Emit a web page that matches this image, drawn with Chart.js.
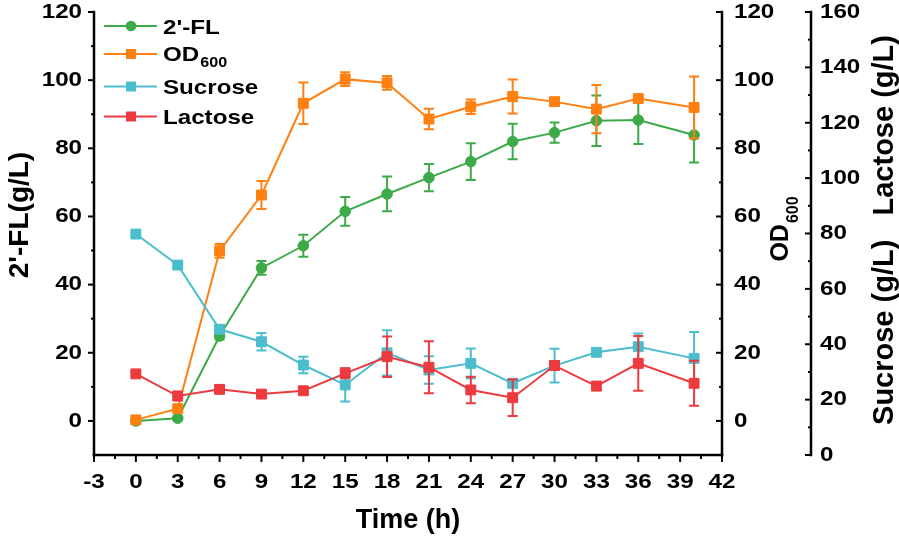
<!DOCTYPE html>
<html>
<head>
<meta charset="utf-8">
<script src="https://cdn.jsdelivr.net/npm/chart.js@4/dist/chart.umd.min.js"></script>
<style>
html,body{margin:0;padding:0;background:#fff;}
#wrap{width:899px;height:538px;position:relative;}
canvas{display:block;}
</style>
</head>
<body>
<div id="wrap"><canvas id="c" width="899" height="538"></canvas></div>
<script>
// ---------------- data ----------------
const timeH = [0, 3, 6, 9, 12, 15, 18, 21, 24, 27, 30, 33, 36, 40];
const fl2 = [0, 0.8, 24.9, 44.9, 51.4, 61.5, 66.6, 71.4, 76.1, 82.0, 84.6, 88.1, 88.3, 83.9];
const fl2Err = [0.3, 0.5, 1.0, 2.0, 3.2, 4.2, 5.1, 4.0, 5.4, 5.2, 3.0, 7.4, 7.0, 8.1];
const od600 = [0.3, 3.6, 49.9, 66.3, 93.2, 100.3, 99.2, 88.6, 92.2, 95.2, 93.7, 91.5, 94.6, 92.0];
const od600Err = [0.3, 0.5, 2.0, 4.1, 6.1, 2.0, 2.0, 3.0, 2.1, 5.0, 1.0, 7.1, 1.0, 9.1];
const sucrose = [79.8, 68.6, 45.4, 40.9, 32.5, 25.3, 36.9, 30.7, 33.1, 25.9, 32.3, 37.1, 39.1, 34.9];
const sucroseErr = [0.5, 0.8, 1.0, 3.2, 3.0, 6.0, 8.2, 5.0, 5.4, 1.5, 6.1, 1.0, 4.8, 9.5];
const lactose = [29.3, 21.3, 23.7, 22.0, 23.2, 29.5, 35.5, 31.7, 23.5, 20.7, 32.3, 24.9, 33.1, 25.9];
const lactoseErr = [0.5, 1.5, 1.0, 1.0, 1.0, 1.8, 7.3, 9.4, 4.8, 6.6, 1.0, 1.5, 9.9, 8.1];

const xTickLabels = [-3, 0, 3, 6, 9, 12, 15, 18, 21, 24, 27, 30, 33, 36, 39, 42];
const leftTickLabels = [0, 20, 40, 60, 80, 100, 120];
const odTickLabels = [0, 20, 40, 60, 80, 100, 120];
const sugTickLabels = [0, 20, 40, 60, 80, 100, 120, 140, 160];

const seriesLabels = ["2'-FL", "OD600", "Sucrose", "Lactose"];
// --------------------------------------

const FONT = "'Liberation Sans', Arial, Helvetica, sans-serif";
const STRETCH = 1.15;
const GREEN = '#3DAA48', ORANGE = '#FF7F10', CYAN = '#4BBDCD', RED = '#EC3A3F';
const errorSets = [fl2Err, od600Err, sucroseErr, lactoseErr];

const canvas = document.getElementById('c');
const ctx = canvas.getContext('2d');
const origFill = CanvasRenderingContext2D.prototype.fillText;
ctx.fillText = function (t, x, y, mw) {
  if (this.__stretch) {
    const m = /(\d+(?:\.\d+)?)px/.exec(this.font);
    const sz = m ? parseFloat(m[1]) : 0;
    if (sz >= 18 && sz < 24) {
      this.save();
      this.translate(x, y);
      this.scale(this.__stretch, 1);
      origFill.call(this, t, 0, 0);
      this.restore();
      return;
    }
  }
  if (mw === undefined) origFill.call(this, t, x, y); else origFill.call(this, t, x, y, mw);
};

function pts(arr) { return timeH.map((t, i) => ({ x: t, y: arr[i] })); }

function stretchText(c, text, x, y, sx) {
  c.save(); c.translate(x, y); c.scale(sx, 1); origFill.call(c, text, 0, 0); c.restore();
}

function line(c, x1, y1, x2, y2) { c.beginPath(); c.moveTo(x1, y1); c.lineTo(x2, y2); c.stroke(); }

function drawAxes(chart) {
  const c = chart.ctx, a = chart.chartArea;
  const sx = chart.scales.x, yl = chart.scales.y, yo = chart.scales.yOD, ys = chart.scales.ySug;
  c.save();
  c.strokeStyle = '#000';
  c.lineCap = 'square';
  c.lineWidth = 2.5;
  line(c, a.left, a.top, a.left, a.bottom);
  line(c, a.left, a.bottom, a.right, a.bottom);
  line(c, a.right, a.top, a.right, a.bottom);
  const sxPos = ys.left;
  line(c, sxPos, a.top, sxPos, a.bottom);
  c.lineWidth = 2;
  c.lineCap = 'butt';
  // x ticks (outward, down)
  for (let v = -3; v <= 42.001; v += 1.5) {
    const px = sx.getPixelForValue(v);
    const major = Math.abs(v / 3 - Math.round(v / 3)) < 1e-6;
    line(c, px, a.bottom, px, a.bottom + (major ? 7 : 4));
  }
  // left ticks (outward)
  for (let v = 0; v <= 120; v += 10) {
    const py = yl.getPixelForValue(v);
    const major = v % 20 === 0;
    line(c, a.left, py, a.left - (major ? 6 : 3), py);
  }
  // OD ticks (inward)
  for (let v = 0; v <= 120; v += 10) {
    const py = yo.getPixelForValue(v);
    const major = v % 20 === 0;
    line(c, a.right, py, a.right - (major ? 6 : 3), py);
  }
  // sucrose/lactose ticks (inward)
  for (let v = 0; v <= 160; v += 10) {
    const py = ys.getPixelForValue(v);
    const major = v % 20 === 0;
    line(c, sxPos, py, sxPos - (major ? 6 : 3), py);
  }
  c.restore();
}

function drawErrorBars(chart, idx) {
  const ds = chart.data.datasets[idx];
  const errs = errorSets[idx];
  const meta = chart.getDatasetMeta(idx);
  const yS = chart.scales[ds.yAxisID];
  const c = chart.ctx;
  c.save();
  c.strokeStyle = ds.borderColor;
  c.lineWidth = 2;
  meta.data.forEach((pt, i) => {
    const v = ds.data[i].y, e = errs[i];
    if (!e) return;
    const yt = yS.getPixelForValue(v + e), yb = yS.getPixelForValue(v - e);
    c.beginPath();
    c.moveTo(pt.x, yt); c.lineTo(pt.x, yb);
    c.moveTo(pt.x - 5, yt); c.lineTo(pt.x + 5, yt);
    c.moveTo(pt.x - 5, yb); c.lineTo(pt.x + 5, yb);
    c.stroke();
  });
  c.restore();
}

function drawLegend(chart) {
  const c = chart.ctx;
  const rows = [26, 54, 86.5, 116.5];
  c.save();
  chart.data.datasets.forEach((ds, i) => {
    const y = rows[i];
    c.strokeStyle = ds.borderColor; c.fillStyle = ds.backgroundColor; c.lineWidth = 2;
    line(c, 104, y, 157, y);
    if (ds.pointStyle === 'circle') {
      c.beginPath(); c.arc(131, y, 5.3, 0, Math.PI * 2); c.fill();
    } else {
      c.fillRect(126, y - 5, 10, 10);
    }
    c.fillStyle = '#000';
    c.textAlign = 'left';
    c.textBaseline = 'alphabetic';
    const lab = ds.label;
    if (lab === 'OD600') {
      c.font = 'bold 21px ' + FONT;
      stretchText(c, 'OD', 163, 61, STRETCH);
      const w = c.measureText('OD').width * STRETCH;
      c.font = 'bold 14px ' + FONT;
      stretchText(c, '600', 163 + w + 1, 67, STRETCH);
    } else {
      c.font = 'bold 21px ' + FONT;
      stretchText(c, lab, 163, y + 7.5, STRETCH);
    }
  });
  c.restore();
}

function drawTitles(chart) {
  const c = chart.ctx;
  c.save();
  c.fillStyle = '#000';
  c.textBaseline = 'alphabetic';
  // left title
  c.font = 'bold 28px ' + FONT;
  c.textAlign = 'center';
  c.save(); c.translate(28, 215); c.rotate(-Math.PI / 2); c.fillText("2'-FL(g/L)", 0, 0); c.restore();
  // OD600 title
  c.textAlign = 'left';
  c.font = 'bold 25px ' + FONT;
  const w1 = c.measureText('OD').width;
  c.font = 'bold 16px ' + FONT;
  const w2 = c.measureText('600').width;
  const tot = w1 + w2 + 1;
  c.save(); c.translate(788, 229); c.rotate(-Math.PI / 2);
  c.font = 'bold 25px ' + FONT;
  c.fillText('OD', -tot / 2, 0);
  c.font = 'bold 16px ' + FONT;
  c.fillText('600', -tot / 2 + w1 + 1, 10);
  c.restore();
  // Sucrose / Lactose title
  c.font = 'bold 29px ' + FONT;
  c.textAlign = 'center';
  c.save(); c.translate(893, 230); c.rotate(-Math.PI / 2);
  c.fillText('Sucrose (g/L)   Lactose (g/L)', 0, 0);
  c.restore();
  c.restore();
}

const customPlugin = {
  id: 'customDraw',
  beforeDraw(chart) { chart.ctx.__stretch = STRETCH; },
  beforeDatasetsDraw(chart) { chart.ctx.__stretch = 0; drawAxes(chart); },
  beforeDatasetDraw(chart, args) { drawErrorBars(chart, args.index); },
  afterDraw(chart) { chart.ctx.__stretch = 0; drawLegend(chart); drawTitles(chart); }
};

const tickFont = { family: FONT, size: 21, weight: 'bold' };

function fixV(width) {
  return s => { s.width = width; s.paddingTop = 0; s.paddingBottom = 0; s.paddingLeft = 0; s.paddingRight = 0; };
}
function setTicks(list) { return s => { s.ticks = list.map(v => ({ value: v })); }; }

const commonDs = { borderWidth: 2, tension: 0, pointBorderWidth: 1, clip: false, showLine: true };

new Chart(ctx, {
  type: 'line',
  data: {
    datasets: [
      Object.assign({}, commonDs, { label: seriesLabels[0], data: pts(fl2), yAxisID: 'y', borderColor: GREEN, backgroundColor: GREEN, pointBackgroundColor: GREEN, pointBorderColor: GREEN, pointStyle: 'circle', pointRadius: 5.3, order: 4 }),
      Object.assign({}, commonDs, { label: seriesLabels[1], data: pts(od600), yAxisID: 'yOD', borderColor: ORANGE, backgroundColor: ORANGE, pointBackgroundColor: ORANGE, pointBorderColor: ORANGE, pointStyle: 'rect', pointRadius: 7, order: 3 }),
      Object.assign({}, commonDs, { label: seriesLabels[2], data: pts(sucrose), yAxisID: 'ySug', borderColor: CYAN, backgroundColor: CYAN, pointBackgroundColor: CYAN, pointBorderColor: CYAN, pointStyle: 'rect', pointRadius: 7, order: 2 }),
      Object.assign({}, commonDs, { label: seriesLabels[3], data: pts(lactose), yAxisID: 'ySug', borderColor: RED, backgroundColor: RED, pointBackgroundColor: RED, pointBorderColor: RED, pointStyle: 'rect', pointRadius: 7, order: 1 })
    ]
  },
  options: {
    responsive: false,
    devicePixelRatio: 1,
    animation: false,
    events: [],
    layout: { padding: { top: 12, left: 0, right: 0, bottom: 0 } },
    plugins: { legend: { display: false }, tooltip: { enabled: false } },
    scales: {
      x: {
        type: 'linear', position: 'bottom', min: -3, max: 42,
        afterBuildTicks: setTicks(xTickLabels),
        afterFit: s => { s.height = 83; s.paddingLeft = 0; s.paddingRight = 0; },
        grid: { display: false, drawTicks: false }, border: { display: false },
        ticks: { font: tickFont, color: '#000', padding: 15, maxRotation: 0, autoSkip: false },
        title: { display: true, text: 'Time (h)', color: '#000', font: { family: FONT, size: 27, weight: 'bold' }, padding: { top: 0, bottom: 1 } }
      },
      y: {
        type: 'linear', position: 'left', min: -10, max: 120,
        afterBuildTicks: setTicks(leftTickLabels),
        afterFit: fixV(94),
        grid: { display: false, drawTicks: false }, border: { display: false },
        ticks: { font: tickFont, color: '#000', padding: 12 }
      },
      yOD: {
        type: 'linear', position: 'right', weight: 0, min: -10, max: 120,
        afterBuildTicks: setTicks(odTickLabels),
        afterFit: fixV(89),
        grid: { display: false, drawTicks: false }, border: { display: false },
        ticks: { font: tickFont, color: '#000', padding: 12 }
      },
      ySug: {
        type: 'linear', position: 'right', weight: 1, min: 0, max: 160,
        afterBuildTicks: setTicks(sugTickLabels),
        afterFit: fixV(88),
        grid: { display: false, drawTicks: false }, border: { display: false },
        ticks: { font: tickFont, color: '#000', padding: 9 }
      }
    }
  },
  plugins: [customPlugin]
});
</script>
</body>
</html>
